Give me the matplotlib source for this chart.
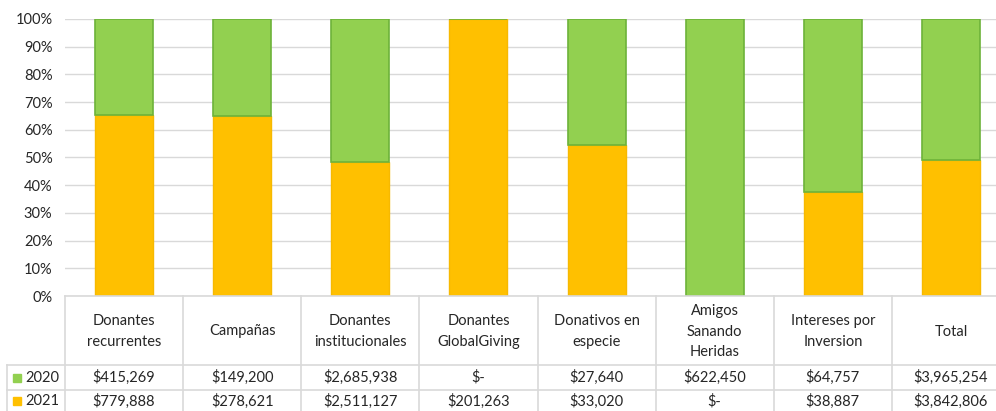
import matplotlib.pyplot as plt
import matplotlib.transforms as mtransforms
from matplotlib.lines import Line2D
import numpy as np

plt.rcParams['font.family'] = ['Lato', 'DejaVu Sans']

categories = ["Donantes\nrecurrentes", "Campañas", "Donantes\ninstitucionales",
              "Donantes\nGlobalGiving", "Donativos en\nespecie",
              "Amigos\nSanando\nHeridas", "Intereses por\nInversion", "Total"]
v2020 = np.array([415269, 149200, 2685938, 0, 27640, 622450, 64757, 3965254])
v2021 = np.array([779888, 278621, 2511127, 201263, 33020, 0, 38887, 3842806])
series = ["2020", "2021"]

green = "#92D050"
orange = "#FFC000"
grid_c = "#D9D9D9"
txt_c = "#262626"

W, H = 996, 411
fig = plt.figure(figsize=(W / 100, H / 100), dpi=100)

# plot area in pixels (right side runs past the image edge, like the source)
x0, x1, ytop, ybot = 65, 1010, 19, 296
ax = fig.add_axes([x0 / W, 1 - ybot / H, (x1 - x0) / W, (ybot - ytop) / H])

tot = v2020 + v2021
p21 = v2021 / tot
p20 = v2020 / tot
x = np.arange(len(categories))

ax.bar(x, p21, width=0.49, color=orange, edgecolor="#F7B900", linewidth=1, zorder=3)
ax.bar(x, p20, bottom=p21, width=0.49, color=green, edgecolor="#6DB33A", linewidth=1.2, zorder=3)

ax.set_xlim(-0.5, len(categories) - 0.5)
ax.set_ylim(0, 1)
ax.set_yticks(np.arange(0, 1.01, 0.1))
ax.set_yticklabels([f"{int(round(t * 100))}%" for t in np.arange(0, 1.01, 0.1)],
                   fontsize=10.5, color=txt_c)
ax.set_xticks([])
ax.tick_params(axis="y", length=0, pad=9)
ax.grid(axis="y", color=grid_c, linewidth=1, zorder=0)
for s in ax.spines.values():
    s.set_visible(False)

# data table under the chart
trans = mtransforms.blended_transform_factory(ax.transData, fig.transFigure)


def fy(py):
    return 1 - py / H


row_top, row1, row2, row_end = 296, 365, 390, 415
n = len(categories)
fig.add_artist(Line2D([-0.5, n - 0.5], [fy(row_top)] * 2, transform=trans, color=grid_c, lw=1.2))
for yy in (row1, row2):
    fig.add_artist(Line2D([7 / W, 1], [fy(yy)] * 2, transform=fig.transFigure, color=grid_c, lw=1.2))
for k in range(n + 1):
    fig.add_artist(Line2D([k - 0.5] * 2, [fy(row_top), fy(row_end)], transform=trans, color=grid_c, lw=1.2))
fig.add_artist(Line2D([7 / W] * 2, [fy(row1), fy(row_end)], transform=fig.transFigure, color=grid_c, lw=1.2))


def money(v):
    return "$-" if v == 0 else f"${v:,}"


for k, cat in enumerate(categories):
    fig.text(k, fy((row_top + row1) / 2 + 1), cat, transform=trans, ha="center", va="center",
             fontsize=10.5, color=txt_c, linespacing=1.6)
    fig.text(k, fy((row1 + row2) / 2), money(v2020[k]), transform=trans, ha="center", va="center",
             fontsize=10.5, color=txt_c)
    fig.text(k, fy(row2 + 11), money(v2021[k]), transform=trans, ha="center", va="center",
             fontsize=10.5, color=txt_c)

for name, col, yy in ((series[0], green, (row1 + row2) / 2), (series[1], orange, row2 + 11)):
    fig.add_artist(Line2D([17 / W], [fy(yy)], transform=fig.transFigure, marker="s",
                          markersize=5.5, color=col, linestyle="none"))
    fig.text(25 / W, fy(yy), name, ha="left", va="center", fontsize=10.5, color=txt_c)

fig.savefig("out.png", dpi=100)
